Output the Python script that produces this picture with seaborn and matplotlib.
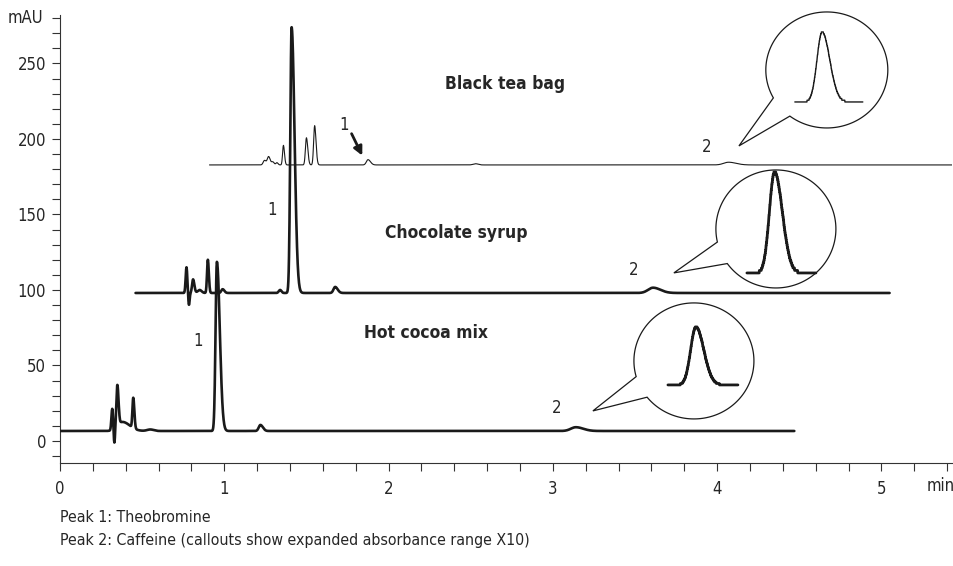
import numpy as np
import pandas as pd
import matplotlib
matplotlib.use("Agg")
import matplotlib.pyplot as plt
import seaborn as sns
from matplotlib.patches import Polygon
from matplotlib.lines import Line2D
from matplotlib.transforms import IdentityTransform
from matplotlib.ticker import MultipleLocator

# ---------------- data ----------------
tea_range = (0.91, 5.43)
tea_base = 182.8
tea_rt = [1.245, 1.27, 1.295, 1.32, 1.36, 1.50, 1.55, 1.875, 2.53, 4.07]
tea_h = [3.0, 5.5, 2.0, 1.5, 13.0, 18.0, 26.0, 3.5, 0.8, 1.8]
tea_w = [0.008, 0.008, 0.007, 0.006, 0.005, 0.006, 0.006, 0.010, 0.015, 0.030]
tea_tail = [1.2, 1.2, 1.2, 1.2, 1.3, 1.4, 1.4, 1.5, 1.0, 1.5]

choc_range = (0.46, 5.05)
choc_base = 98.0
choc_rt = [0.77, 0.785, 0.81, 0.85, 0.90, 0.99, 1.34, 1.41, 1.675, 3.61]
choc_h = [17.0, -8.0, 9.0, 2.0, 22.0, 2.5, 2.0, 176.0, 4.0, 3.5]
choc_w = [0.005, 0.004, 0.006, 0.012, 0.005, 0.008, 0.008, 0.008, 0.010, 0.030]
choc_tail = [1.0, 1.0, 1.3, 1.0, 1.2, 1.3, 1.0, 2.2, 1.5, 1.5]

cocoa_range = (0.0, 4.47)
cocoa_base = 6.6
cocoa_rt = [0.318, 0.331, 0.349, 0.38, 0.446, 0.55, 0.955, 1.22, 3.14]
cocoa_h = [14.0, -10.0, 27.0, 6.0, 20.0, 1.0, 112.0, 4.0, 2.5]
cocoa_w = [0.005, 0.004, 0.006, 0.030, 0.005, 0.020, 0.008, 0.010, 0.030]
cocoa_tail = [1.0, 1.0, 1.2, 1.5, 1.3, 1.0, 2.2, 1.5, 1.5]

sample_names = ["Black tea bag", "Chocolate syrup", "Hot cocoa mix"]
x_ticks = [0, 1, 2, 3, 4, 5]
y_ticks = [0, 50, 100, 150, 200, 250]
footnotes = ["Peak 1: Theobromine",
             "Peak 2: Caffeine (callouts show expanded absorbance range X10)"]


def build_trace(rng, base, rt, h, w, tail, step=0.001):
    t = np.arange(rng[0], rng[1] + step / 2, step)
    y = np.full_like(t, base)
    for r, hh, ww, tf in zip(rt, h, w, tail):
        s = np.where(t < r, ww, ww * tf)
        y = y + hh * np.exp(-0.5 * ((t - r) / s) ** 2)
    return t, y


traces = {
    "tea": build_trace(tea_range, tea_base, tea_rt, tea_h, tea_w, tea_tail),
    "choc": build_trace(choc_range, choc_base, choc_rt, choc_h, choc_w, choc_tail),
    "cocoa": build_trace(cocoa_range, cocoa_base, cocoa_rt, cocoa_h, cocoa_w, cocoa_tail),
}

# ---------------- style ----------------
sns.set_style("ticks")
plt.rcParams["font.family"] = ["DejaVu Sans"]
plt.rcParams["font.stretch"] = "condensed"

fig = plt.figure(figsize=(9.54, 5.66), dpi=100)
ax = fig.add_axes([60 / 954, 103 / 566, 892 / 954, 448 / 566])

lw = {"tea": 0.8, "choc": 1.9, "cocoa": 1.9}
col = "#1a1a1a"
for key, (t, y) in traces.items():
    df = pd.DataFrame({"time": t, "mAU": y})
    sns.lineplot(data=df, x="time", y="mAU", ax=ax, color=col, lw=lw[key],
                 estimator=None, sort=False, zorder=3)

ax.set_xlim(0, 5.43)
ax.set_ylim(-14.6, 282.1)
ax.set_xlabel("")
ax.set_ylabel("")
ax.set_xticks(x_ticks)
ax.set_yticks(y_ticks)
ax.xaxis.set_minor_locator(MultipleLocator(0.2))
ax.yaxis.set_minor_locator(MultipleLocator(10))
ax.tick_params(which="both", direction="out", length=6, width=0.8, color="#333333")
ax.tick_params(axis="both", which="major", labelsize=12, pad=4)
ax.tick_params(axis="x", which="major", pad=6)
for s in ["top", "right"]:
    ax.spines[s].set_visible(False)
for s in ["left", "bottom"]:
    ax.spines[s].set_linewidth(0.8)
    ax.spines[s].set_color("#333333")

# axis unit labels
fig.text(43 / 954, 1 - 18 / 566, "mAU", ha="right", va="center", fontsize=12)
fig.text(941 / 954, 1 - 486 / 566, "min", ha="center", va="center", fontsize=12)

# sample names (left edges)
name_pos = [(2.343, 236.4), (1.978, 137.7), (1.850, 71.5)]
for name, (tx, ty) in zip(sample_names, name_pos):
    ax.text(tx, ty, name, ha="left", va="center", fontsize=12.5, fontweight="bold")

# peak labels
for (tx, ty, s) in [(1.729, 209.3, "1"), (1.290, 153.0, "1"), (0.840, 66.2, "1"),
                    (3.938, 194.7, "2"), (3.494, 113.2, "2"), (3.025, 21.9, "2")]:
    ax.text(tx, ty, s, ha="center", va="center", fontsize=12)

# arrow to tea peak 1
ax.annotate("", xy=(1.840, 189.0), xytext=(1.775, 203.5),
            arrowprops=dict(arrowstyle="-|>", lw=2.0, color=col, mutation_scale=13,
                            shrinkA=0, shrinkB=0))

# ---------------- callout bubbles ----------------
fig.canvas.draw()
ident = IdentityTransform()


def bubble(center, rx, ry, tip, angA, angB, trace_key, rt, box, line_w):
    cx, cy = ax.transData.transform(center)
    tx, ty = ax.transData.transform(tip)
    th = np.deg2rad(np.linspace(angB, angA + 360, 200))
    xs = cx + rx * np.cos(th)
    ys = cy + ry * np.sin(th)
    pts = np.column_stack([np.append(xs, tx), np.append(ys, ty)])
    poly = Polygon(pts, closed=True, facecolor="white", edgecolor=col, lw=0.9,
                   transform=ident, zorder=5)
    fig.add_artist(poly)
    t, y = traces[trace_key]
    x0, x1, y0, y1, pk = box
    sel = (t > rt - 0.16) & (t < rt + 0.24)
    tt, yy = t[sel], y[sel]
    yn = (yy - yy.min()) / (yy.max() - yy.min())
    yn = np.round(yn * 40) / 40
    px = cx + x0 + (tt - tt[0]) / (tt[-1] - tt[0]) * (x1 - x0)
    py = cy + y0 + yn * (y1 - y0)
    ln = Line2D(px, py, color=col, lw=line_w, transform=ident, zorder=6)
    fig.add_artist(ln)


bubble((4.668, 245.7), 61, 58, (4.133, 195.4), 208.8, 232.7, "tea", tea_rt[-1],
       (-32, 36, -32, 38, -5), 1.0)
bubble((4.358, 140.4), 60, 59, (3.737, 111.3), 192.8, 215.9, "choc", choc_rt[-1],
       (-29, 40, -44, 57, -4), 2.0)
bubble((3.859, 53.0), 60, 58, (3.244, 19.9), 195.7, 218.7, "cocoa", cocoa_rt[-1],
       (-26, 44, -24, 34, 0), 2.0)

# footnotes
fig.text(60 / 954, 1 - 518 / 566, footnotes[0], ha="left", va="center", fontsize=11.4)
fig.text(60 / 954, 1 - 541 / 566, footnotes[1], ha="left", va="center", fontsize=11.4)

fig.savefig("out.png", dpi=100)
